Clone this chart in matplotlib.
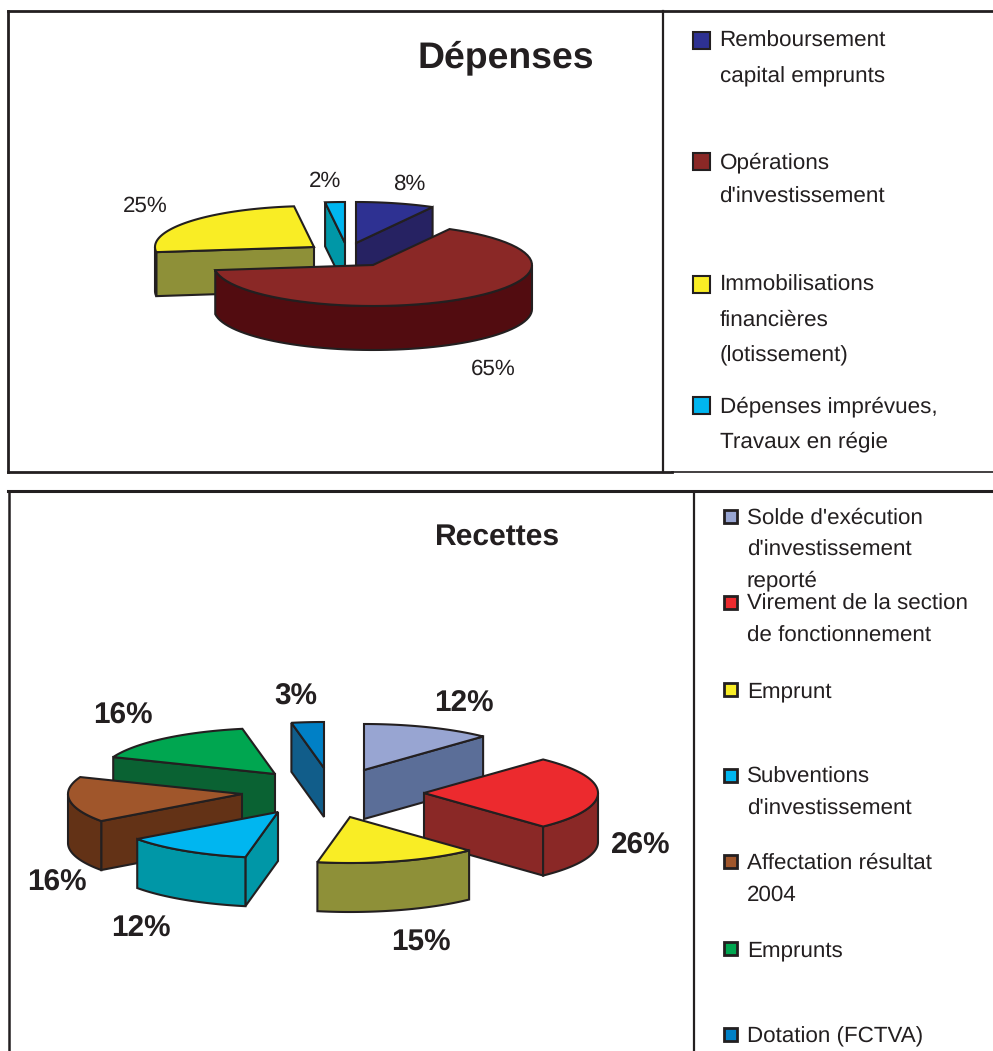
import numpy as np
import matplotlib
matplotlib.use("Agg")
import matplotlib.pyplot as plt
from matplotlib.patches import Polygon, Rectangle

plt.rcParams['font.family'] = ['Liberation Sans', 'DejaVu Sans']
plt.rcParams['text.hinting'] = 'no_hinting'
plt.rcParams['text.hinting_factor'] = 8

# Donnees
depenses_noms = ["Remboursement\ncapital emprunts", "Opérations\nd'investissement",
                 "Immobilisations\nfinancières\n(lotissement)", "Dépenses imprévues,\nTravaux en régie"]
depenses_pct = [8, 65, 25, 2]

recettes_noms = ["Solde d'exécution\nd'investissement\nreporté", "Virement de la section\nde fonctionnement",
                 "Emprunt", "Subventions\nd'investissement", "Affectation résultat\n2004",
                 "Emprunts", "Dotation (FCTVA)"]
recettes_pct = [12, 26, 15, 12, 16, 16, 3]

# Couleurs (dessus, flanc)
depenses_coul = ["#2E3192", "#8A2826", "#F9ED25", "#00B6F0"]
depenses_flanc = ["#262262", "#520C10", "#8E9038", "#0097A7"]
recettes_coul = ["#98A5D2", "#EC2A2E", "#F9ED25", "#00B6F0", "#A0562B", "#00A650", "#0080C6"]
recettes_flanc = ["#5B6E98", "#8A2826", "#8E9038", "#0097A7", "#633216", "#0A6233", "#115D8A"]

# Mise en page, en pixels
depenses_centre = (373, 265)
depenses_eclate = [(-17, -22), (0, 0), (-59, -18), (-28, -22)]
depenses_ordre = [3, 0, 2, 1]
recettes_centre = (350, 800)
recettes_eclate = [(14, -30), (74, -7), (0, 17), (-72, 12), (-108, -6), (-75, -26), (-26, -32)]
recettes_ordre = [0, 1, 2, 6, 5, 4, 3]

depenses_lab_xy = [(409, 183), (493, 368), (145, 205), (325, 180)]
recettes_lab_xy = [(464, 703), (641, 844), (421, 941), (141, 928), (57, 881), (123, 714), (296, 695)]
depenses_leg_y = [40, 161, 284, 405]
recettes_leg_y = [517, 603, 690, 776, 862, 949, 1035]

NOIR = "#231F20"
TEXTE = "#231F20"
DY = 1.5  # va="center" place le texte un peu trop haut

fig = plt.figure(figsize=(9.93, 10.51), dpi=100)
ax = fig.add_axes([0, 0, 1, 1])
ax.set_xlim(0, 993)
ax.set_ylim(1051, 0)
ax.axis("off")


def point(cx, cy, a, b, t):
    return cx + a * np.sin(t), cy - b * np.cos(t)


def camembert(pct, centre, eclate, ordre, a, b, prof, coul, flanc, lw=1.5):
    bornes = np.radians(np.concatenate([[0], np.cumsum(pct)]) * 3.6)
    for i in ordre:
        t1, t2 = bornes[i], bornes[i + 1]
        cx = centre[0] + eclate[i][0]
        cy = centre[1] + eclate[i][1]
        ts = np.linspace(t1, t2, 60)
        xa, ya = point(cx, cy, a, b, ts)

        # parois radiales, seulement celles tournees vers le bas
        for t, visible in ((t1, np.sin(t1) < -1e-6), (t2, np.sin(t2) > 1e-6)):
            if visible:
                xb, yb = point(cx, cy, a, b, t)
                ax.add_patch(Polygon([(cx, cy), (xb, yb), (xb, yb + prof), (cx, cy + prof)],
                                     fc=flanc[i], ec=NOIR, lw=lw, joinstyle="miter"))

        # bord exterieur, partie avant
        deb, fin = max(t1, np.pi / 2), min(t2, 3 * np.pi / 2)
        if fin > deb:
            tr = np.linspace(deb, fin, 60)
            xr, yr = point(cx, cy, a, b, tr)
            pts = list(zip(xr, yr)) + list(zip(xr[::-1], yr[::-1] + prof))
            ax.add_patch(Polygon(pts, fc=flanc[i], ec=NOIR, lw=lw, joinstyle="miter"))

        ax.add_patch(Polygon([(cx, cy)] + list(zip(xa, ya)), fc=coul[i], ec=NOIR, lw=lw, joinstyle="miter"))


def legende(noms, ys, x_car, cote, dy_car, x_txt, pas, taille, coul, lw):
    for nom, y, c in zip(noms, ys, coul):
        ax.add_patch(Rectangle((x_car, y + dy_car - cote / 2), cote, cote, fc=c, ec=NOIR, lw=lw))
        for k, ligne in enumerate(nom.split("\n")):
            ax.text(x_txt, y + k * pas + DY, ligne, fontsize=taille, color=TEXTE, ha="left", va="center")


# Cadres
def trait(x, y, lw=2.0):
    ax.plot(x, y, color=NOIR, lw=lw, solid_capstyle="projecting")


trait([8, 993], [11, 11])
trait([8, 8], [11, 472])
trait([8, 672], [472, 472])
trait([672, 993], [472, 472], lw=1.2)
trait([663, 663], [11, 472], lw=1.6)
trait([8, 993], [490.5, 490.5], lw=2.2)
trait([9, 9], [490.5, 1051], lw=1.8)
trait([694, 694], [494, 1051], lw=1.6)

# Depenses
ax.text(505.5, 56 + DY, "Dépenses", fontsize=26.9, fontweight="bold", color=TEXTE, ha="center", va="center")
camembert(depenses_pct, depenses_centre, depenses_eclate, depenses_ordre, 159, 41, 44,
          depenses_coul, depenses_flanc)
for p, (x, y) in zip(depenses_pct, depenses_lab_xy):
    ax.text(x, y + DY, f"{p}%", fontsize=16.1, color=TEXTE, ha="center", va="center")
legende(depenses_noms, depenses_leg_y, 693, 17, 0, 719.5, 35, 16.2, depenses_coul, 1.5)

# Recettes
ax.text(498, 535 + DY, "Recettes", fontsize=21.6, fontweight="bold", color=TEXTE, ha="center", va="center")
camembert(recettes_pct, recettes_centre, recettes_eclate, recettes_ordre, 174, 46, 49,
          recettes_coul, recettes_flanc)
for p, (x, y) in zip(recettes_pct, recettes_lab_xy):
    ax.text(x, y + DY, f"{p}%", fontsize=21.4, fontweight="bold", color=TEXTE, ha="center", va="center")
legende(recettes_noms, recettes_leg_y, 724, 13, -1, 747, 31.3, 16.1, recettes_coul, 2.0)

fig.savefig("out.png", dpi=100)
